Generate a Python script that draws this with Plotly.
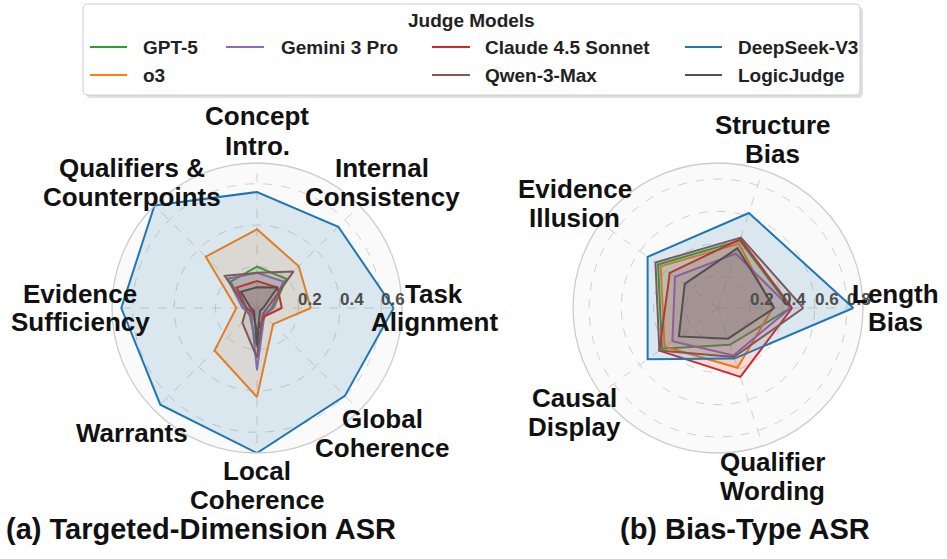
import math
import plotly.graph_objects as go

W, H = 947, 559

# ---------------- data ----------------
models = ["GPT-5", "o3", "Gemini 3 Pro", "Claude 4.5 Sonnet", "Qwen-3-Max", "DeepSeek-V3", "LogicJudge"]
colors = ["#2ca02c", "#ff7f0e", "#9467bd", "#d62728", "#8c564b", "#1f77b4", "#505050"]

# (a) Targeted-dimension ASR, counter-clockwise from 0 deg
dims = ["Task Alignment", "Internal Consistency", "Concept Intro.", "Qualifiers & Counterpoints",
        "Evidence Sufficiency", "Warrants", "Local Coherence", "Global Coherence"]
dim_labels = [["Task", "Alignment"], ["Internal", "Consistency"], ["Concept", "Intro."],
              ["Qualifiers &", "Counterpoints"], ["Evidence", "Sufficiency"], ["Warrants"],
              ["Local", "Coherence"], ["Global", "Coherence"]]
gpt5_dim = [0.08, 0.20, 0.20, 0.18, 0.06, 0.05, 0.19, 0.05]
o3_dim = [0.26, 0.285, 0.38, 0.35, 0.10, 0.29, 0.43, 0.11]
gemini_dim = [0.07, 0.18, 0.17, 0.20, 0.07, 0.04, 0.30, 0.05]
claude_dim = [0.12, 0.14, 0.13, 0.14, 0.05, 0.03, 0.11, 0.055]
qwen_dim = [0.05, 0.25, 0.17, 0.22, 0.05, 0.10, 0.24, 0.04]
deepseek_dim = [0.66, 0.555, 0.56, 0.70, 0.655, 0.66, 0.70, 0.60]
logic_dim = [0.03, 0.14, 0.10, 0.11, 0.03, 0.02, 0.18, 0.02]
dim_values = [gpt5_dim, o3_dim, gemini_dim, claude_dim, qwen_dim, deepseek_dim, logic_dim]
dim_ticks = [0.2, 0.4, 0.6]

# (b) Bias-type ASR, counter-clockwise from 0 deg
biases = ["Length Bias", "Structure Bias", "Evidence Illusion", "Causal Display", "Qualifier Wording"]
bias_labels = [["Length", "Bias"], ["Structure", "Bias"], ["Evidence", "Illusion"],
               ["Causal", "Display"], ["Qualifier", "Wording"]]
gpt5_bias = [0.45, 0.44, 0.46, 0.43, 0.24]
o3_bias = [0.34, 0.42, 0.44, 0.41, 0.39]
gemini_bias = [0.45, 0.355, 0.33, 0.35, 0.31]
claude_bias = [0.46, 0.45, 0.37, 0.45, 0.45]
qwen_bias = [0.53, 0.46, 0.48, 0.45, 0.32]
deepseek_bias = [0.84, 0.62, 0.54, 0.54, 0.33]
logic_bias = [0.35, 0.39, 0.255, 0.30, 0.20]
bias_values = [gpt5_bias, o3_bias, gemini_bias, claude_bias, qwen_bias, deepseek_bias, logic_bias]
bias_ticks = [0.2, 0.4, 0.6, 0.8]

titles = ["(a) Targeted-Dimension ASR", "(b) Bias-Type ASR"]
legend_title = "Judge Models"

# ---------------- layout helpers ----------------
FONT = "Liberation Sans, Arial, Helvetica, sans-serif"
RAD = 145
CENTERS = [(257, 308), (718, 308)]
RMAX = [0.70, 0.90]
LABEL_R = 177
LINE_H = 29


def px2x(px):
    return px / W


def py2y(py):
    return 1 - py / H


def rgba(hexc, a):
    h = hexc.lstrip("#")
    return "rgba(%d,%d,%d,%.3f)" % (int(h[0:2], 16), int(h[2:4], 16), int(h[4:6], 16), a)


fig = go.Figure()

for sub, cats, values in (("polar", dims, dim_values), ("polar2", biases, bias_values)):
    for name, col, vals in zip(models, colors, values):
        fig.add_trace(go.Scatterpolar(
            r=list(vals) + [vals[0]],
            theta=list(cats) + [cats[0]],
            mode="lines",
            fill="toself",
            fillcolor=rgba(col, 0.14),
            line=dict(color=col, width=2),
            name=name,
            showlegend=False,
            hoverinfo="skip",
            subplot=sub,
        ))


def polar_layout(center, cats, rmax, ticks):
    cx, cy = center
    return dict(
        domain=dict(x=[px2x(cx - RAD), px2x(cx + RAD)], y=[py2y(cy + RAD), py2y(cy - RAD)]),
        bgcolor="#fafafa",
        radialaxis=dict(
            range=[0, rmax], tickvals=ticks, showticklabels=False,
            angle=0, showline=False, ticks="",
            gridcolor="#d0d0d0", griddash="dash", gridwidth=1,
        ),
        angularaxis=dict(
            type="category", categoryorder="array", categoryarray=cats,
            rotation=0, direction="counterclockwise",
            showticklabels=False, ticks="",
            showline=True, linecolor="#cccccc", linewidth=1.3,
            gridcolor="#d0d0d0", griddash="dash", gridwidth=1,
        ),
    )


annotations = []

# radial tick labels (placed along the 0-degree spoke, slightly outward and above)
for center, rmax, ticks in ((CENTERS[0], RMAX[0], dim_ticks), (CENTERS[1], RMAX[1], bias_ticks)):
    for t in ticks:
        px = center[0] + t / rmax * RAD + 12
        py = center[1] - 9
        annotations.append(dict(
            x=px2x(px), y=py2y(py), xref="paper", yref="paper", text="%.1f" % t, showarrow=False,
            xanchor="center", yanchor="middle",
            font=dict(family=FONT, size=17, color="#4d4d4d", weight="bold"),
        ))

# category labels
for center, labels in ((CENTERS[0], dim_labels), (CENTERS[1], bias_labels)):
    n = len(labels)
    for i, lines in enumerate(labels):
        ang = math.radians(360.0 * i / n)
        px = center[0] + LABEL_R * math.cos(ang)
        py = center[1] - LABEL_R * math.sin(ang)
        k = len(lines)
        for j, ln in enumerate(lines):
            ly = py + (j - (k - 1) / 2.0) * LINE_H
            annotations.append(dict(
                x=px2x(px), y=py2y(ly), xref="paper", yref="paper", text=ln, showarrow=False,
                xanchor="center", yanchor="middle", align="center",
                font=dict(family=FONT, size=26, color="#111111", weight="bold"),
            ))

for tx, (cxp, cyp) in zip(titles, [(201, 529), (745, 529)]):
    annotations.append(dict(
        x=px2x(cxp), y=py2y(cyp), xref="paper", yref="paper", text=tx, showarrow=False,
        xanchor="center", yanchor="middle",
        font=dict(family=FONT, size=29, color="#111111", weight="bold"),
    ))

# ---------------- manual legend ----------------
shapes = []
bx0, by0, bx1, by1, rr = 83, 4, 860, 95, 5


def rounded_path(x0, y0, x1, y1, r):
    X = lambda v: px2x(v)
    Y = lambda v: py2y(v)
    return ("M %f,%f L %f,%f Q %f,%f %f,%f L %f,%f Q %f,%f %f,%f L %f,%f Q %f,%f %f,%f L %f,%f Q %f,%f %f,%f Z" % (
        X(x0 + r), Y(y0), X(x1 - r), Y(y0), X(x1), Y(y0), X(x1), Y(y0 + r),
        X(x1), Y(y1 - r), X(x1), Y(y1), X(x1 - r), Y(y1),
        X(x0 + r), Y(y1), X(x0), Y(y1), X(x0), Y(y1 - r),
        X(x0), Y(y0 + r), X(x0), Y(y0), X(x0 + r), Y(y0)))


shapes.append(dict(type="path", xref="paper", yref="paper",
                   path=rounded_path(bx0 + 3, by0 + 3, bx1 + 3, by1 + 3, rr),
                   fillcolor="rgba(0,0,0,0.12)", line=dict(width=0)))
shapes.append(dict(type="path", xref="paper", yref="paper",
                   path=rounded_path(bx0, by0, bx1, by1, rr),
                   fillcolor="white", line=dict(color="#cccccc", width=1)))

annotations.append(dict(
    x=px2x((bx0 + bx1) / 2), y=py2y(20), xref="paper", yref="paper", text=legend_title,
    showarrow=False, xanchor="center", yanchor="middle",
    font=dict(family=FONT, size=19, color="#222222", weight="bold"),
))

col_line_x = [(90, 127), (226, 264), (432, 470), (685, 722)]
col_text_x = [141, 279, 483, 736]
row_y = [47, 75]
slots = [(0, 0), (0, 1), (1, 0), (2, 0), (2, 1), (3, 0), (3, 1)]  # (col,row) per model
for name, col, (c, r) in zip(models, colors, slots):
    y = row_y[r]
    shapes.append(dict(type="line", xref="paper", yref="paper",
                       x0=px2x(col_line_x[c][0]), x1=px2x(col_line_x[c][1]),
                       y0=py2y(y), y1=py2y(y), line=dict(color=col, width=2)))
    annotations.append(dict(
        x=px2x(col_text_x[c]), y=py2y(y), xref="paper", yref="paper", text=name,
        showarrow=False, xanchor="left", yanchor="middle",
        font=dict(family=FONT, size=19, color="#222222", weight="bold"),
    ))

fig.update_layout(
    width=W, height=H, autosize=False,
    margin=dict(l=0, r=0, t=0, b=0),
    paper_bgcolor="white", plot_bgcolor="white",
    polar=polar_layout(CENTERS[0], dims, RMAX[0], dim_ticks),
    polar2=polar_layout(CENTERS[1], biases, RMAX[1], bias_ticks),
    annotations=annotations,
    shapes=shapes,
    showlegend=False,
)

fig.write_html("out.html", config={"displayModeBar": False},
               post_script="document.body.style.margin='0px';")
